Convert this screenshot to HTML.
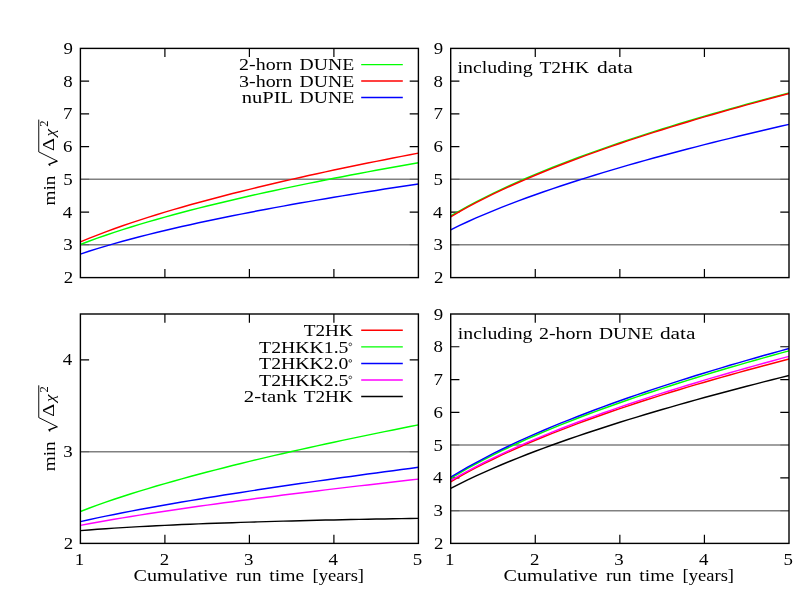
<!DOCTYPE html>
<html><head><meta charset="utf-8"><title>chart</title>
<style>
html,body{margin:0;padding:0;background:#fff;}
svg{display:block;will-change:transform;opacity:0.9999;}
text{font-family:"Liberation Serif",serif;font-size:17.0px;fill:#000;}
</style></head><body>
<svg width="805" height="604" viewBox="0 0 805 604">
<rect width="805" height="604" fill="#fff"/>
<path d="M80.4,212.11h8.7M418.4,212.11h-8.7" stroke="#000" stroke-width="1.2"/>
<path d="M80.4,146.63h8.7M418.4,146.63h-8.7" stroke="#000" stroke-width="1.2"/>
<path d="M80.4,113.89h8.7M418.4,113.89h-8.7" stroke="#000" stroke-width="1.2"/>
<path d="M80.4,81.14h8.7M418.4,81.14h-8.7" stroke="#000" stroke-width="1.2"/>
<path d="M164.90,277.6v-8.7M164.90,48.4v8.7" stroke="#000" stroke-width="1.2"/>
<path d="M249.40,277.6v-8.7M249.40,48.4v8.7" stroke="#000" stroke-width="1.2"/>
<path d="M333.90,277.6v-8.7M333.90,48.4v8.7" stroke="#000" stroke-width="1.2"/>
<line x1="80.4" x2="418.4" y1="244.86" y2="244.86" stroke="#808080" stroke-width="1.5"/>
<path d="M80.4,244.86h8.7M418.4,244.86h-8.7" stroke="#000" stroke-opacity="0.22" stroke-width="1.5"/>
<line x1="80.4" x2="418.4" y1="179.37" y2="179.37" stroke="#808080" stroke-width="1.5"/>
<path d="M80.4,179.37h8.7M418.4,179.37h-8.7" stroke="#000" stroke-opacity="0.22" stroke-width="1.5"/>
<path d="M80.40,244.51 L88.85,241.28 L97.30,238.19 L105.75,235.23 L114.20,232.38 L122.65,229.63 L131.10,226.97 L139.55,224.39 L148.00,221.89 L156.45,219.46 L164.90,217.09 L173.35,214.78 L181.80,212.52 L190.25,210.31 L198.70,208.15 L207.15,206.04 L215.60,203.97 L224.05,201.94 L232.50,199.94 L240.95,197.98 L249.40,196.05 L257.85,194.16 L266.30,192.30 L274.75,190.46 L283.20,188.65 L291.65,186.87 L300.10,185.12 L308.55,183.38 L317.00,181.68 L325.45,179.99 L333.90,178.33 L342.35,176.68 L350.80,175.06 L359.25,173.46 L367.70,171.87 L376.15,170.30 L384.60,168.75 L393.05,167.22 L401.50,165.70 L409.95,164.20 L418.40,162.71" fill="none" stroke="#00ff00" stroke-width="1.45" stroke-linejoin="round"/>
<path d="M80.40,241.91 L88.85,238.41 L97.30,235.06 L105.75,231.85 L114.20,228.76 L122.65,225.78 L131.10,222.89 L139.55,220.10 L148.00,217.38 L156.45,214.74 L164.90,212.17 L173.35,209.66 L181.80,207.21 L190.25,204.82 L198.70,202.48 L207.15,200.18 L215.60,197.93 L224.05,195.73 L232.50,193.56 L240.95,191.43 L249.40,189.34 L257.85,187.28 L266.30,185.26 L274.75,183.26 L283.20,181.30 L291.65,179.36 L300.10,177.46 L308.55,175.58 L317.00,173.72 L325.45,171.89 L333.90,170.08 L342.35,168.29 L350.80,166.53 L359.25,164.78 L367.70,163.06 L376.15,161.36 L384.60,159.67 L393.05,158.00 L401.50,156.35 L409.95,154.72 L418.40,153.10" fill="none" stroke="#ff0000" stroke-width="1.45" stroke-linejoin="round"/>
<path d="M80.40,254.10 L88.85,251.31 L97.30,248.65 L105.75,246.10 L114.20,243.65 L122.65,241.28 L131.10,238.99 L139.55,236.77 L148.00,234.62 L156.45,232.53 L164.90,230.49 L173.35,228.51 L181.80,226.57 L190.25,224.67 L198.70,222.82 L207.15,221.01 L215.60,219.23 L224.05,217.49 L232.50,215.78 L240.95,214.10 L249.40,212.44 L257.85,210.82 L266.30,209.23 L274.75,207.65 L283.20,206.11 L291.65,204.58 L300.10,203.08 L308.55,201.60 L317.00,200.14 L325.45,198.70 L333.90,197.27 L342.35,195.87 L350.80,194.48 L359.25,193.11 L367.70,191.76 L376.15,190.42 L384.60,189.09 L393.05,187.79 L401.50,186.49 L409.95,185.21 L418.40,183.94" fill="none" stroke="#0000ff" stroke-width="1.45" stroke-linejoin="round"/>
<rect x="80.4" y="48.4" width="338.00" height="229.20" fill="none" stroke="#000" stroke-width="1.4"/>
<path d="M450.7,212.11h8.7M789.0,212.11h-8.7" stroke="#000" stroke-width="1.2"/>
<path d="M450.7,146.63h8.7M789.0,146.63h-8.7" stroke="#000" stroke-width="1.2"/>
<path d="M450.7,113.89h8.7M789.0,113.89h-8.7" stroke="#000" stroke-width="1.2"/>
<path d="M450.7,81.14h8.7M789.0,81.14h-8.7" stroke="#000" stroke-width="1.2"/>
<path d="M535.27,277.6v-8.7M535.27,48.4v8.7" stroke="#000" stroke-width="1.2"/>
<path d="M619.85,277.6v-8.7M619.85,48.4v8.7" stroke="#000" stroke-width="1.2"/>
<path d="M704.42,277.6v-8.7M704.42,48.4v8.7" stroke="#000" stroke-width="1.2"/>
<line x1="450.7" x2="789.0" y1="244.86" y2="244.86" stroke="#808080" stroke-width="1.5"/>
<path d="M450.7,244.86h8.7M789.0,244.86h-8.7" stroke="#000" stroke-opacity="0.22" stroke-width="1.5"/>
<line x1="450.7" x2="789.0" y1="179.37" y2="179.37" stroke="#808080" stroke-width="1.5"/>
<path d="M450.7,179.37h8.7M789.0,179.37h-8.7" stroke="#000" stroke-opacity="0.22" stroke-width="1.5"/>
<path d="M450.70,215.97 L459.16,211.05 L467.62,206.36 L476.07,201.86 L484.53,197.54 L492.99,193.37 L501.44,189.35 L509.90,185.45 L518.36,181.66 L526.82,177.98 L535.27,174.40 L543.73,170.92 L552.19,167.51 L560.65,164.19 L569.11,160.94 L577.56,157.75 L586.02,154.64 L594.48,151.58 L602.93,148.58 L611.39,145.64 L619.85,142.75 L628.31,139.91 L636.76,137.11 L645.22,134.36 L653.68,131.66 L662.14,128.99 L670.60,126.36 L679.05,123.78 L687.51,121.22 L695.97,118.70 L704.42,116.22 L712.88,113.77 L721.34,111.35 L729.80,108.95 L738.26,106.59 L746.71,104.26 L755.17,101.95 L763.63,99.67 L772.09,97.41 L780.54,95.18 L789.00,92.97" fill="none" stroke="#00ff00" stroke-width="1.45" stroke-linejoin="round"/>
<path d="M450.70,216.80 L459.16,211.89 L467.62,207.20 L476.07,202.70 L484.53,198.38 L492.99,194.21 L501.44,190.18 L509.90,186.28 L518.36,182.49 L526.82,178.81 L535.27,175.23 L543.73,171.74 L552.19,168.33 L560.65,165.00 L569.11,161.74 L577.56,158.56 L586.02,155.43 L594.48,152.37 L602.93,149.37 L611.39,146.42 L619.85,143.52 L628.31,140.67 L636.76,137.87 L645.22,135.11 L653.68,132.40 L662.14,129.73 L670.60,127.09 L679.05,124.50 L687.51,121.94 L695.97,119.41 L704.42,116.92 L712.88,114.46 L721.34,112.03 L729.80,109.62 L738.26,107.25 L746.71,104.91 L755.17,102.59 L763.63,100.30 L772.09,98.03 L780.54,95.79 L789.00,93.57" fill="none" stroke="#ff0000" stroke-width="1.45" stroke-linejoin="round"/>
<path d="M450.70,229.81 L459.16,225.69 L467.62,221.74 L476.07,217.96 L484.53,214.32 L492.99,210.80 L501.44,207.39 L509.90,204.09 L518.36,200.88 L526.82,197.76 L535.27,194.72 L543.73,191.75 L552.19,188.85 L560.65,186.01 L569.11,183.23 L577.56,180.51 L586.02,177.84 L594.48,175.21 L602.93,172.64 L611.39,170.11 L619.85,167.62 L628.31,165.17 L636.76,162.76 L645.22,160.39 L653.68,158.05 L662.14,155.75 L670.60,153.47 L679.05,151.23 L687.51,149.01 L695.97,146.83 L704.42,144.67 L712.88,142.53 L721.34,140.42 L729.80,138.34 L738.26,136.28 L746.71,134.24 L755.17,132.22 L763.63,130.22 L772.09,128.25 L780.54,126.29 L789.00,124.35" fill="none" stroke="#0000ff" stroke-width="1.45" stroke-linejoin="round"/>
<rect x="450.7" y="48.4" width="338.30" height="229.20" fill="none" stroke="#000" stroke-width="1.4"/>
<path d="M80.4,359.88h8.7M418.4,359.88h-8.7" stroke="#000" stroke-width="1.2"/>
<path d="M164.90,543.4v-8.7M164.90,314.0v8.7" stroke="#000" stroke-width="1.2"/>
<path d="M249.40,543.4v-8.7M249.40,314.0v8.7" stroke="#000" stroke-width="1.2"/>
<path d="M333.90,543.4v-8.7M333.90,314.0v8.7" stroke="#000" stroke-width="1.2"/>
<line x1="80.4" x2="418.4" y1="451.64" y2="451.64" stroke="#808080" stroke-width="1.5"/>
<path d="M80.4,451.64h8.7M418.4,451.64h-8.7" stroke="#000" stroke-opacity="0.22" stroke-width="1.5"/>
<path d="M80.40,511.50 L88.85,508.27 L97.30,505.17 L105.75,502.19 L114.20,499.30 L122.65,496.51 L131.10,493.79 L139.55,491.15 L148.00,488.57 L156.45,486.06 L164.90,483.60 L173.35,481.20 L181.80,478.84 L190.25,476.53 L198.70,474.27 L207.15,472.04 L215.60,469.85 L224.05,467.69 L232.50,465.57 L240.95,463.48 L249.40,461.42 L257.85,459.39 L266.30,457.39 L274.75,455.41 L283.20,453.46 L291.65,451.53 L300.10,449.63 L308.55,447.74 L317.00,445.88 L325.45,444.03 L333.90,442.21 L342.35,440.40 L350.80,438.62 L359.25,436.84 L367.70,435.09 L376.15,433.35 L384.60,431.63 L393.05,429.92 L401.50,428.23 L409.95,426.55 L418.40,424.89" fill="none" stroke="#00ff00" stroke-width="1.45" stroke-linejoin="round"/>
<path d="M80.40,521.59 L88.85,519.71 L97.30,517.89 L105.75,516.13 L114.20,514.42 L122.65,512.75 L131.10,511.12 L139.55,509.53 L148.00,507.97 L156.45,506.45 L164.90,504.95 L173.35,503.47 L181.80,502.02 L190.25,500.59 L198.70,499.19 L207.15,497.80 L215.60,496.43 L224.05,495.08 L232.50,493.75 L240.95,492.43 L249.40,491.12 L257.85,489.83 L266.30,488.56 L274.75,487.29 L283.20,486.04 L291.65,484.80 L300.10,483.57 L308.55,482.35 L317.00,481.15 L325.45,479.95 L333.90,478.76 L342.35,477.58 L350.80,476.41 L359.25,475.25 L367.70,474.09 L376.15,472.95 L384.60,471.81 L393.05,470.68 L401.50,469.55 L409.95,468.44 L418.40,467.33" fill="none" stroke="#0000ff" stroke-width="1.45" stroke-linejoin="round"/>
<path d="M80.40,525.37 L88.85,523.77 L97.30,522.23 L105.75,520.73 L114.20,519.27 L122.65,517.85 L131.10,516.47 L139.55,515.11 L148.00,513.78 L156.45,512.48 L164.90,511.20 L173.35,509.95 L181.80,508.71 L190.25,507.50 L198.70,506.30 L207.15,505.12 L215.60,503.95 L224.05,502.80 L232.50,501.66 L240.95,500.54 L249.40,499.43 L257.85,498.33 L266.30,497.24 L274.75,496.16 L283.20,495.09 L291.65,494.04 L300.10,492.99 L308.55,491.95 L317.00,490.92 L325.45,489.90 L333.90,488.89 L342.35,487.88 L350.80,486.88 L359.25,485.89 L367.70,484.91 L376.15,483.93 L384.60,482.96 L393.05,481.99 L401.50,481.04 L409.95,480.08 L418.40,479.14" fill="none" stroke="#ff00ff" stroke-width="1.45" stroke-linejoin="round"/>
<path d="M80.40,530.60 L88.85,529.92 L97.30,529.29 L105.75,528.70 L114.20,528.14 L122.65,527.61 L131.10,527.11 L139.55,526.64 L148.00,526.19 L156.45,525.76 L164.90,525.35 L173.35,524.96 L181.80,524.59 L190.25,524.23 L198.70,523.89 L207.15,523.56 L215.60,523.25 L224.05,522.95 L232.50,522.66 L240.95,522.38 L249.40,522.11 L257.85,521.85 L266.30,521.60 L274.75,521.36 L283.20,521.13 L291.65,520.91 L300.10,520.69 L308.55,520.49 L317.00,520.29 L325.45,520.09 L333.90,519.91 L342.35,519.73 L350.80,519.55 L359.25,519.39 L367.70,519.23 L376.15,519.07 L384.60,518.92 L393.05,518.77 L401.50,518.63 L409.95,518.50 L418.40,518.37" fill="none" stroke="#000000" stroke-width="1.45" stroke-linejoin="round"/>
<rect x="80.4" y="314.0" width="338.00" height="229.40" fill="none" stroke="#000" stroke-width="1.4"/>
<path d="M450.7,477.86h8.7M789.0,477.86h-8.7" stroke="#000" stroke-width="1.2"/>
<path d="M450.7,412.31h8.7M789.0,412.31h-8.7" stroke="#000" stroke-width="1.2"/>
<path d="M450.7,379.54h8.7M789.0,379.54h-8.7" stroke="#000" stroke-width="1.2"/>
<path d="M450.7,346.77h8.7M789.0,346.77h-8.7" stroke="#000" stroke-width="1.2"/>
<path d="M535.27,543.4v-8.7M535.27,314.0v8.7" stroke="#000" stroke-width="1.2"/>
<path d="M619.85,543.4v-8.7M619.85,314.0v8.7" stroke="#000" stroke-width="1.2"/>
<path d="M704.42,543.4v-8.7M704.42,314.0v8.7" stroke="#000" stroke-width="1.2"/>
<line x1="450.7" x2="789.0" y1="510.63" y2="510.63" stroke="#808080" stroke-width="1.5"/>
<path d="M450.7,510.63h8.7M789.0,510.63h-8.7" stroke="#000" stroke-opacity="0.22" stroke-width="1.5"/>
<line x1="450.7" x2="789.0" y1="445.09" y2="445.09" stroke="#808080" stroke-width="1.5"/>
<path d="M450.7,445.09h8.7M789.0,445.09h-8.7" stroke="#000" stroke-opacity="0.22" stroke-width="1.5"/>
<path d="M450.70,481.82 L459.16,476.91 L467.62,472.22 L476.07,467.72 L484.53,463.40 L492.99,459.23 L501.44,455.21 L509.90,451.31 L518.36,447.53 L526.82,443.85 L535.27,440.28 L543.73,436.79 L552.19,433.39 L560.65,430.07 L569.11,426.82 L577.56,423.64 L586.02,420.53 L594.48,417.48 L602.93,414.49 L611.39,411.55 L619.85,408.66 L628.31,405.83 L636.76,403.04 L645.22,400.29 L653.68,397.59 L662.14,394.93 L670.60,392.31 L679.05,389.73 L687.51,387.18 L695.97,384.67 L704.42,382.19 L712.88,379.74 L721.34,377.33 L729.80,374.94 L738.26,372.59 L746.71,370.26 L755.17,367.96 L763.63,365.68 L772.09,363.43 L780.54,361.21 L789.00,359.01" fill="none" stroke="#ff0000" stroke-width="1.45" stroke-linejoin="round"/>
<path d="M450.70,478.32 L459.16,473.27 L467.62,468.44 L476.07,463.82 L484.53,459.37 L492.99,455.07 L501.44,450.92 L509.90,446.90 L518.36,443.00 L526.82,439.20 L535.27,435.50 L543.73,431.90 L552.19,428.38 L560.65,424.94 L569.11,421.57 L577.56,418.28 L586.02,415.05 L594.48,411.88 L602.93,408.77 L611.39,405.72 L619.85,402.72 L628.31,399.77 L636.76,396.86 L645.22,394.01 L653.68,391.19 L662.14,388.42 L670.60,385.69 L679.05,382.99 L687.51,380.33 L695.97,377.71 L704.42,375.12 L712.88,372.56 L721.34,370.04 L729.80,367.54 L738.26,365.08 L746.71,362.64 L755.17,360.23 L763.63,357.85 L772.09,355.49 L780.54,353.15 L789.00,350.84" fill="none" stroke="#00ff00" stroke-width="1.45" stroke-linejoin="round"/>
<path d="M450.70,477.24 L459.16,472.12 L467.62,467.23 L476.07,462.54 L484.53,458.03 L492.99,453.69 L501.44,449.48 L509.90,445.41 L518.36,441.46 L526.82,437.62 L535.27,433.88 L543.73,430.23 L552.19,426.68 L560.65,423.20 L569.11,419.80 L577.56,416.47 L586.02,413.21 L594.48,410.01 L602.93,406.87 L611.39,403.79 L619.85,400.76 L628.31,397.78 L636.76,394.85 L645.22,391.97 L653.68,389.13 L662.14,386.34 L670.60,383.58 L679.05,380.87 L687.51,378.19 L695.97,375.55 L704.42,372.94 L712.88,370.36 L721.34,367.82 L729.80,365.31 L738.26,362.83 L746.71,360.37 L755.17,357.95 L763.63,355.55 L772.09,353.18 L780.54,350.83 L789.00,348.51" fill="none" stroke="#0000ff" stroke-width="1.45" stroke-linejoin="round"/>
<path d="M450.70,480.59 L459.16,475.71 L467.62,471.03 L476.07,466.55 L484.53,462.24 L492.99,458.07 L501.44,454.05 L509.90,450.14 L518.36,446.35 L526.82,442.66 L535.27,439.07 L543.73,435.56 L552.19,432.14 L560.65,428.79 L569.11,425.51 L577.56,422.30 L586.02,419.16 L594.48,416.07 L602.93,413.04 L611.39,410.06 L619.85,407.13 L628.31,404.26 L636.76,401.42 L645.22,398.63 L653.68,395.88 L662.14,393.17 L670.60,390.50 L679.05,387.87 L687.51,385.27 L695.97,382.70 L704.42,380.17 L712.88,377.67 L721.34,375.19 L729.80,372.75 L738.26,370.33 L746.71,367.95 L755.17,365.58 L763.63,363.25 L772.09,360.93 L780.54,358.64 L789.00,356.38" fill="none" stroke="#ff00ff" stroke-width="1.45" stroke-linejoin="round"/>
<path d="M450.70,488.46 L459.16,484.12 L467.62,479.96 L476.07,475.96 L484.53,472.11 L492.99,468.38 L501.44,464.77 L509.90,461.26 L518.36,457.86 L526.82,454.53 L535.27,451.29 L543.73,448.13 L552.19,445.04 L560.65,442.01 L569.11,439.04 L577.56,436.12 L586.02,433.27 L594.48,430.46 L602.93,427.70 L611.39,424.99 L619.85,422.31 L628.31,419.68 L636.76,417.09 L645.22,414.54 L653.68,412.02 L662.14,409.54 L670.60,407.08 L679.05,404.66 L687.51,402.27 L695.97,399.91 L704.42,397.57 L712.88,395.26 L721.34,392.98 L729.80,390.72 L738.26,388.49 L746.71,386.27 L755.17,384.08 L763.63,381.92 L772.09,379.77 L780.54,377.64 L789.00,375.54" fill="none" stroke="#000000" stroke-width="1.45" stroke-linejoin="round"/>
<rect x="450.7" y="314.0" width="338.30" height="229.40" fill="none" stroke="#000" stroke-width="1.4"/>
<line x1="361.2" x2="402.8" y1="64.6" y2="64.6" stroke="#00ff00" stroke-width="1.45"/>
<line x1="361.2" x2="402.8" y1="81.0" y2="81.0" stroke="#ff0000" stroke-width="1.45"/>
<line x1="361.2" x2="402.8" y1="97.5" y2="97.5" stroke="#0000ff" stroke-width="1.45"/>
<line x1="361.2" x2="402.8" y1="330.3" y2="330.3" stroke="#ff0000" stroke-width="1.45"/>
<line x1="361.2" x2="402.8" y1="346.85" y2="346.85" stroke="#00ff00" stroke-width="1.45"/>
<line x1="361.2" x2="402.8" y1="363.4" y2="363.4" stroke="#0000ff" stroke-width="1.45"/>
<line x1="361.2" x2="402.8" y1="379.9" y2="379.9" stroke="#ff00ff" stroke-width="1.45"/>
<line x1="361.2" x2="402.8" y1="396.4" y2="396.4" stroke="#000000" stroke-width="1.45"/>
<circle cx="350.3" cy="344.35" r="1.35" fill="none" stroke="#000" stroke-width="0.65"/>
<circle cx="350.3" cy="360.90" r="1.35" fill="none" stroke="#000" stroke-width="0.65"/>
<circle cx="350.3" cy="377.40" r="1.35" fill="none" stroke="#000" stroke-width="0.65"/>
<text x="133.61" y="580.80" textLength="93.97" lengthAdjust="spacingAndGlyphs">Cumulative</text>
<text x="235.98" y="580.80" textLength="25.56" lengthAdjust="spacingAndGlyphs">run</text>
<text x="269.36" y="580.80" textLength="34.83" lengthAdjust="spacingAndGlyphs">time</text>
<text x="312.64" y="580.80" textLength="51.41" lengthAdjust="spacingAndGlyphs">[years]</text>
<text x="503.61" y="580.80" textLength="93.97" lengthAdjust="spacingAndGlyphs">Cumulative</text>
<text x="605.98" y="580.80" textLength="25.56" lengthAdjust="spacingAndGlyphs">run</text>
<text x="639.36" y="580.80" textLength="34.83" lengthAdjust="spacingAndGlyphs">time</text>
<text x="682.64" y="580.80" textLength="51.41" lengthAdjust="spacingAndGlyphs">[years]</text>
<text x="239.12" y="70.10" textLength="53.16" lengthAdjust="spacingAndGlyphs">2-horn</text>
<text x="299.52" y="70.10" textLength="54.66" lengthAdjust="spacingAndGlyphs">DUNE</text>
<text x="238.97" y="86.50" textLength="53.32" lengthAdjust="spacingAndGlyphs">3-horn</text>
<text x="299.52" y="86.50" textLength="54.66" lengthAdjust="spacingAndGlyphs">DUNE</text>
<text x="241.75" y="103.00" textLength="51.36" lengthAdjust="spacingAndGlyphs">nuPIL</text>
<text x="299.52" y="103.00" textLength="54.66" lengthAdjust="spacingAndGlyphs">DUNE</text>
<text x="303.82" y="336.10" textLength="49.01" lengthAdjust="spacingAndGlyphs">T2HK</text>
<text x="259.11" y="352.65" textLength="89.32" lengthAdjust="spacingAndGlyphs">T2HKK1.5</text>
<text x="259.11" y="369.20" textLength="89.18" lengthAdjust="spacingAndGlyphs">T2HKK2.0</text>
<text x="259.11" y="385.70" textLength="89.32" lengthAdjust="spacingAndGlyphs">T2HKK2.5</text>
<text x="243.88" y="402.20" textLength="53.20" lengthAdjust="spacingAndGlyphs">2-tank</text>
<text x="303.82" y="402.20" textLength="49.01" lengthAdjust="spacingAndGlyphs">T2HK</text>
<text x="457.46" y="72.80" textLength="75.14" lengthAdjust="spacingAndGlyphs">including</text>
<text x="539.51" y="72.80" textLength="49.62" lengthAdjust="spacingAndGlyphs">T2HK</text>
<text x="597.11" y="72.80" textLength="35.74" lengthAdjust="spacingAndGlyphs">data</text>
<text x="457.76" y="338.70" textLength="74.74" lengthAdjust="spacingAndGlyphs">including</text>
<text x="539.02" y="338.70" textLength="53.16" lengthAdjust="spacingAndGlyphs">2-horn</text>
<text x="598.92" y="338.70" textLength="54.35" lengthAdjust="spacingAndGlyphs">DUNE</text>
<text x="659.92" y="338.70" textLength="35.54" lengthAdjust="spacingAndGlyphs">data</text>
<text x="63.67" y="283.20" textLength="9.44" lengthAdjust="spacingAndGlyphs">2</text>
<text x="63.26" y="250.46" textLength="9.44" lengthAdjust="spacingAndGlyphs">3</text>
<text x="62.84" y="217.71" textLength="9.44" lengthAdjust="spacingAndGlyphs">4</text>
<text x="63.26" y="184.97" textLength="9.44" lengthAdjust="spacingAndGlyphs">5</text>
<text x="63.12" y="152.23" textLength="9.44" lengthAdjust="spacingAndGlyphs">6</text>
<text x="63.12" y="119.49" textLength="9.44" lengthAdjust="spacingAndGlyphs">7</text>
<text x="63.26" y="86.74" textLength="9.44" lengthAdjust="spacingAndGlyphs">8</text>
<text x="63.40" y="54.00" textLength="9.44" lengthAdjust="spacingAndGlyphs">9</text>
<text x="433.98" y="283.20" textLength="9.44" lengthAdjust="spacingAndGlyphs">2</text>
<text x="433.56" y="250.46" textLength="9.44" lengthAdjust="spacingAndGlyphs">3</text>
<text x="433.14" y="217.71" textLength="9.44" lengthAdjust="spacingAndGlyphs">4</text>
<text x="433.56" y="184.97" textLength="9.44" lengthAdjust="spacingAndGlyphs">5</text>
<text x="433.42" y="152.23" textLength="9.44" lengthAdjust="spacingAndGlyphs">6</text>
<text x="433.42" y="119.49" textLength="9.44" lengthAdjust="spacingAndGlyphs">7</text>
<text x="433.56" y="86.74" textLength="9.44" lengthAdjust="spacingAndGlyphs">8</text>
<text x="433.70" y="54.00" textLength="9.44" lengthAdjust="spacingAndGlyphs">9</text>
<text x="63.67" y="549.00" textLength="9.44" lengthAdjust="spacingAndGlyphs">2</text>
<text x="63.26" y="457.24" textLength="9.44" lengthAdjust="spacingAndGlyphs">3</text>
<text x="62.84" y="365.48" textLength="9.44" lengthAdjust="spacingAndGlyphs">4</text>
<text x="433.98" y="549.00" textLength="9.44" lengthAdjust="spacingAndGlyphs">2</text>
<text x="433.56" y="516.23" textLength="9.44" lengthAdjust="spacingAndGlyphs">3</text>
<text x="433.14" y="483.46" textLength="9.44" lengthAdjust="spacingAndGlyphs">4</text>
<text x="433.56" y="450.69" textLength="9.44" lengthAdjust="spacingAndGlyphs">5</text>
<text x="433.42" y="417.91" textLength="9.44" lengthAdjust="spacingAndGlyphs">6</text>
<text x="433.42" y="385.14" textLength="9.44" lengthAdjust="spacingAndGlyphs">7</text>
<text x="433.56" y="352.37" textLength="9.44" lengthAdjust="spacingAndGlyphs">8</text>
<text x="433.70" y="319.60" textLength="9.44" lengthAdjust="spacingAndGlyphs">9</text>
<text x="74.81" y="564.90" textLength="9.44" lengthAdjust="spacingAndGlyphs">1</text>
<text x="159.72" y="564.90" textLength="9.44" lengthAdjust="spacingAndGlyphs">2</text>
<text x="243.94" y="564.90" textLength="9.44" lengthAdjust="spacingAndGlyphs">3</text>
<text x="328.51" y="564.90" textLength="9.44" lengthAdjust="spacingAndGlyphs">4</text>
<text x="412.87" y="564.90" textLength="9.44" lengthAdjust="spacingAndGlyphs">5</text>
<text x="445.10" y="564.90" textLength="9.44" lengthAdjust="spacingAndGlyphs">1</text>
<text x="530.10" y="564.90" textLength="9.44" lengthAdjust="spacingAndGlyphs">2</text>
<text x="614.39" y="564.90" textLength="9.44" lengthAdjust="spacingAndGlyphs">3</text>
<text x="699.04" y="564.90" textLength="9.44" lengthAdjust="spacingAndGlyphs">4</text>
<text x="783.47" y="564.90" textLength="9.44" lengthAdjust="spacingAndGlyphs">5</text>
<g transform="translate(55.0,205.2) rotate(-90)"><text x="-0.36" y="0.00" textLength="29.90" lengthAdjust="spacingAndGlyphs" style="font-size:16.60px;">min</text><path d="M44.0,2.6 L53.3,-16.25 L85.6,-16.25" fill="none" stroke="#000" stroke-width="0.95" stroke-linejoin="miter"/><path d="M39.6,-4.9 L41.0,-5.9 L44.2,2.2" fill="none" stroke="#000" stroke-width="1.4" stroke-linejoin="miter"/><text x="54.14" y="-1.00" textLength="13.02" lengthAdjust="spacingAndGlyphs" style="font-size:16.91px;">&#916;</text><text x="68.79" y="-0.30" textLength="7.54" lengthAdjust="spacingAndGlyphs" style="font-size:15.55px;font-style:italic;">&#967;</text><text x="78.45" y="-6.60" textLength="6.25" lengthAdjust="spacingAndGlyphs" style="font-size:11.62px;">2</text></g>
<g transform="translate(55.0,470.9) rotate(-90)"><text x="-0.36" y="0.00" textLength="29.90" lengthAdjust="spacingAndGlyphs" style="font-size:16.60px;">min</text><path d="M44.0,2.6 L53.3,-16.25 L85.6,-16.25" fill="none" stroke="#000" stroke-width="0.95" stroke-linejoin="miter"/><path d="M39.6,-4.9 L41.0,-5.9 L44.2,2.2" fill="none" stroke="#000" stroke-width="1.4" stroke-linejoin="miter"/><text x="54.14" y="-1.00" textLength="13.02" lengthAdjust="spacingAndGlyphs" style="font-size:16.91px;">&#916;</text><text x="68.79" y="-0.30" textLength="7.54" lengthAdjust="spacingAndGlyphs" style="font-size:15.55px;font-style:italic;">&#967;</text><text x="78.45" y="-6.60" textLength="6.25" lengthAdjust="spacingAndGlyphs" style="font-size:11.62px;">2</text></g>
</svg>
</body></html>
